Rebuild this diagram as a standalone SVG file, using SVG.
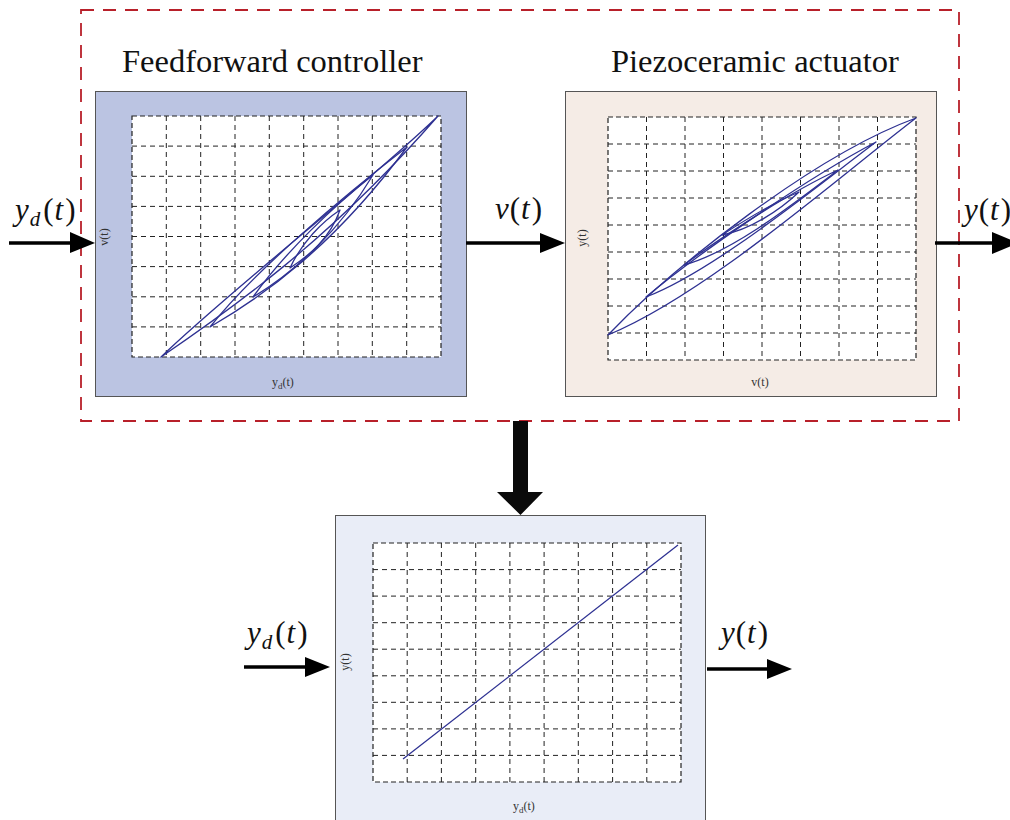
<svg xmlns="http://www.w3.org/2000/svg" width="1010" height="820" viewBox="0 0 1010 820">
<defs>
<style>
.frame{stroke:#555;stroke-width:1}
.plot{fill:#fff;stroke:#222;stroke-width:1.2;stroke-dasharray:5 3}
.grid{stroke:#222;stroke-width:1;stroke-dasharray:5 4;fill:none}
.curve{fill:none;stroke:#2e3192;stroke-width:1.3;stroke-linejoin:round}
.ax{font-size:12px;fill:#333}
.title{font-size:32.5px;fill:#111}
.math{font-size:31px;fill:#111}
.it{font-style:italic}
.arr{stroke:#000;stroke-width:3.5;fill:none}
.head{fill:#000}
</style>
</defs>
<rect width="1010" height="820" fill="#fff"/>
<rect x="81" y="10" width="878" height="411" fill="none" stroke="#b8202a" stroke-width="1.8" stroke-dasharray="13 9"/>
<g font-family="Liberation Serif, Times New Roman, DejaVu Serif, serif">
<text class="title" x="122" y="72">Feedforward controller</text>
<text class="title" x="611" y="72">Piezoceramic actuator</text>

<g id="feedforward">
<rect class="frame" x="95.5" y="91.5" width="371" height="305" fill="#bbc4e2"/>
<rect class="plot" x="132" y="116" width="309" height="241"/>
<path class="grid" d="M166.3 116V357M200.7 116V357M235 116V357M269.3 116V357M303.7 116V357M338 116V357M372.3 116V357M406.7 116V357M132 146.1H441M132 176.3H441M132 206.4H441M132 236.5H441M132 266.6H441M132 296.8H441M132 326.9H441"/>
<path class="curve" d="M161 357C230 310 330 240 438 116C370 182 230 290 161 357Z"/>
<path class="curve" d="M210 327C265 295 335 245 407 147C345 195 255 270 210 327Z"/>
<path class="curve" d="M253 297C295 272 340 230 373 175C335 205 285 252 253 297Z"/>
<path class="curve" d="M290 268C310 255 330 238 340 210C322 222 302 242 290 268Z"/>
<text class="ax" transform="translate(108 237) rotate(-90)" text-anchor="middle">v(t)</text>
<text class="ax" x="272" y="386">y<tspan font-size="9" dy="3">d</tspan><tspan dy="-3">(t)</tspan></text>
</g>

<g id="actuator">
<rect class="frame" x="565.5" y="91.5" width="371" height="305" fill="#f5ece6"/>
<rect class="plot" x="608" y="117" width="308" height="243"/>
<path class="grid" d="M646.5 117V360M685 117V360M723.5 117V360M762 117V360M800.5 117V360M839 117V360M877.5 117V360M608 144H916M608 171H916M608 198H916M608 225H916M608 252H916M608 279H916M608 306H916M608 333H916"/>
<path class="curve" d="M608 335C675 265 815 155 916 118C835 180 705 295 608 335Z"/>
<path class="curve" d="M646 297C690 260 800 182 876 142C812 190 712 272 646 297Z"/>
<path class="curve" d="M684 265C720 238 790 192 838 170C792 205 732 252 684 265Z"/>
<path class="curve" d="M722 235C745 220 775 202 799 192C780 210 750 230 722 235Z"/>
<text class="ax" transform="translate(586 238) rotate(-90)" text-anchor="middle">y(t)</text>
<text class="ax" x="760" y="386" text-anchor="middle">v(t)</text>
</g>

<g id="result">
<rect class="frame" x="335.5" y="515.5" width="370" height="310" fill="#e9edf7"/>
<rect class="plot" x="373" y="543" width="308" height="239"/>
<path class="grid" d="M407.2 543V782M441.4 543V782M475.7 543V782M509.9 543V782M544.1 543V782M578.3 543V782M612.6 543V782M646.8 543V782M373 569.6H681M373 596.1H681M373 622.7H681M373 649.2H681M373 675.8H681M373 702.3H681M373 728.9H681M373 755.4H681"/>
<path class="curve" stroke-width="1.6" d="M403 759L678 545"/>
<text class="ax" transform="translate(349 662) rotate(-90)" text-anchor="middle">y(t)</text>
<text class="ax" x="513" y="810">y<tspan font-size="9" dy="3">d</tspan><tspan dy="-3">(t)</tspan></text>
</g>

<g id="connectors">
<path class="arr" d="M9 243H74"/>
<path class="head" d="M70 232L95 243L70 253Z"/>
<path class="arr" d="M466 243H544"/>
<path class="head" d="M540 233L565 243L540 253Z"/>
<path class="arr" d="M935 243H996"/>
<path class="head" d="M992 232L1018 243L992 254Z"/>
<path d="M513 421H528V492H543L520.5 515L497 492H513Z" fill="#0a0a0a"/>
<path class="arr" d="M244 667H309"/>
<path class="head" d="M305 657L330 667L305 677Z"/>
<path class="arr" d="M707 669H771"/>
<path class="head" d="M767 659L792 669L767 679Z"/>
</g>

<g id="labels">
<text class="math" x="15" y="220"><tspan class="it">y</tspan><tspan class="it" font-size="21" dy="6" dx="1">d</tspan><tspan dy="-6" dx="3">(</tspan><tspan class="it" dx="1">t</tspan><tspan dx="2">)</tspan></text>
<text class="math" x="495" y="219"><tspan class="it">v</tspan><tspan dx="1">(</tspan><tspan class="it" dx="1">t</tspan><tspan dx="2">)</tspan></text>
<text class="math" x="964" y="220"><tspan class="it">y</tspan><tspan dx="1">(</tspan><tspan class="it" dx="1">t</tspan><tspan dx="2">)</tspan></text>
<text class="math" x="247" y="643"><tspan class="it">y</tspan><tspan class="it" font-size="21" dy="6" dx="1">d</tspan><tspan dy="-6" dx="3">(</tspan><tspan class="it" dx="1">t</tspan><tspan dx="2">)</tspan></text>
<text class="math" x="721" y="643"><tspan class="it">y</tspan><tspan dx="1">(</tspan><tspan class="it" dx="1">t</tspan><tspan dx="2">)</tspan></text>
</g>
</g>
</svg>
